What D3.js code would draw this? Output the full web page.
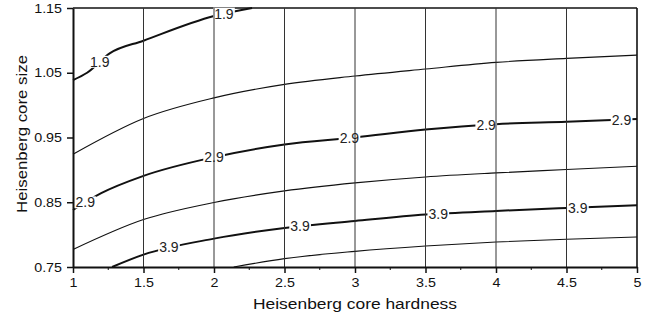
<!DOCTYPE html>
<html>
<head>
<meta charset="utf-8">
<script src="https://cdn.jsdelivr.net/npm/d3@7"></script>
<style>
  body { margin: 0; background: #fff; }
  svg { display: block; }
  text { font-family: "Liberation Sans", Arial, Helvetica, sans-serif; fill: #111; }
</style>
</head>
<body>
<svg id="chart" width="649" height="320"></svg>
<script>
// Axis ticks
const hardnessTicks = [1, 1.5, 2, 2.5, 3, 3.5, 4, 4.5, 5];
const hardnessMinorTicks = [1.25, 1.75, 2.25, 2.75, 3.25, 3.75, 4.25, 4.75];
const gridHardness = [1.5, 2, 2.5, 3, 3.5, 4, 4.5];
const sizeTicks = [0.75, 0.85, 0.95, 1.05, 1.15];

// Contour levels; the labelled ones are drawn heavier
const levels = [1.9, 2.4, 2.9, 3.4, 3.9, 4.4];
const labelledLevels = [1.9, 2.9, 3.9];

// Contour traces as [hardness, size] pairs
const contour19 = [[1, 1.0387], [1.1, 1.050], [1.26, 1.0799], [1.5, 1.0995], [2, 1.1376], [2.27, 1.15]];
const contour24 = [[1, 0.9242], [1.5, 0.9794], [2, 1.0112], [2.5, 1.032], [3, 1.0449], [3.5, 1.0557], [4, 1.066], [4.5, 1.0722], [5, 1.0773]];
const contour29 = [[1, 0.838], [1.2, 0.864], [1.5, 0.8907], [2, 0.9196], [2.5, 0.9392], [3, 0.950], [3.5, 0.9624], [4, 0.9706], [4.5, 0.9742], [5, 0.9784]];
const contour34 = [[1, 0.7769], [1.5, 0.8232], [2, 0.8496], [2.5, 0.8675], [3, 0.8799], [3.5, 0.8891], [4, 0.8953], [4.5, 0.9005], [5, 0.9057]];
const contour39 = [[1.277, 0.75], [1.5, 0.7691], [2, 0.7938], [2.5, 0.8103], [3, 0.8211], [3.5, 0.831], [4, 0.8366], [4.5, 0.8412], [5, 0.8454]];
const contour44 = [[2.14, 0.75], [2.5, 0.7629], [3, 0.7742], [3.5, 0.7824], [4, 0.7886], [4.5, 0.7928], [5, 0.7964]];

// Where the inline level labels sit (hardness values)
const labelAt19 = [1.19, 2.07];
const labelAt29 = [1.087, 2.0, 2.96, 3.93, 4.89];
const labelAt39 = [1.68, 2.61, 3.59, 4.58];

const contours = [contour19, contour24, contour29, contour34, contour39, contour44];
const labelPositions = { 1.9: labelAt19, 2.9: labelAt29, 3.9: labelAt39 };

const W = 649, H = 320;
const margin = { left: 73, right: 12, top: 8, bottom: 53 };
const x = d3.scaleLinear().domain([1, 5]).range([margin.left, W - margin.right]);
const y = d3.scaleLinear().domain([0.75, 1.15]).range([H - margin.bottom, margin.top]);

const svg = d3.select("#chart");
const x0 = x.range()[0], x1 = x.range()[1], y0 = y.range()[0], y1 = y.range()[1];

// top and right frame edges (thin)
const frame = svg.append("g").attr("stroke", "#111").attr("fill", "none");
frame.append("line").attr("x1", x0).attr("x2", x1).attr("y1", y1).attr("y2", y1).attr("stroke-width", 1.6);
frame.append("line").attr("x1", x1).attr("x2", x1).attr("y1", y1).attr("y2", y0).attr("stroke-width", 1.6);

// contour lines
const lineGen = d3.line().x(d => x(d[0])).y(d => y(d[1])).curve(d3.curveMonotoneX);
const pathNodes = {};
const contourG = svg.append("g").attr("fill", "none").attr("stroke", "#111");
levels.forEach((lv, i) => {
  const heavy = labelledLevels.includes(lv);
  const p = contourG.append("path")
    .attr("d", lineGen(contours[i]))
    .attr("stroke-width", heavy ? 2 : 1.1)
    .attr("stroke-linejoin", "round");
  pathNodes[lv] = p.node();
});

// find the pixel y of a contour path at a given hardness
function pathYAt(node, hv) {
  const px = x(hv);
  const L = node.getTotalLength();
  let lo = 0, hi = L;
  for (let k = 0; k < 40; k++) {
    const mid = (lo + hi) / 2;
    if (node.getPointAtLength(mid).x < px) lo = mid; else hi = mid;
  }
  return node.getPointAtLength((lo + hi) / 2).y;
}

// label text layer (created now, masks inserted beneath later)
const maskG = svg.append("g");
const gridG = svg.append("g");
const axisG = svg.append("g");
const labelG = svg.append("g");

labelledLevels.forEach(lv => {
  labelPositions[lv].forEach(hv => {
    const px = x(hv), py = pathYAt(pathNodes[lv], hv);
    const t = labelG.append("text")
      .attr("x", px).attr("y", py).attr("dy", "0.36em")
      .attr("text-anchor", "middle")
      .attr("font-size", 14)
      .style("fill", "#222")
      .text(d3.format(".1f")(lv));
    const bb = t.node().getBBox();
    maskG.append("rect")
      .attr("x", bb.x - 1).attr("y", bb.y + 2)
      .attr("width", bb.width + 2).attr("height", bb.height - 4)
      .attr("fill", "#fff");
  });
});

// vertical grid lines
gridG.selectAll("line").data(gridHardness).join("line")
  .attr("x1", d => x(d)).attr("x2", d => x(d))
  .attr("y1", y1).attr("y2", y0)
  .attr("stroke", "#333").attr("stroke-width", 1);

// bottom axis
const bottom = axisG.append("g").attr("transform", `translate(0,${y0})`)
  .call(d3.axisBottom(x).tickValues(hardnessTicks).tickSize(6).tickPadding(5)
    .tickFormat(d3.format("~g")).tickSizeOuter(0));
bottom.select(".domain").attr("stroke", "#111").attr("stroke-width", 2);
bottom.selectAll(".tick line").attr("stroke", "#111").attr("stroke-width", 1.5);
bottom.selectAll(".tick text")
  .attr("font-size", 13).attr("font-family", null).style("fill", "#111")
  .attr("transform", "scale(1.1,1)");

// minor ticks on the bottom axis
axisG.append("g").selectAll("line").data(hardnessMinorTicks).join("line")
  .attr("x1", d => x(d)).attr("x2", d => x(d))
  .attr("y1", y0).attr("y2", y0 + 3)
  .attr("stroke", "#111").attr("stroke-width", 1);

// left axis
const left = axisG.append("g").attr("transform", `translate(${x0},0)`)
  .call(d3.axisLeft(y).tickValues(sizeTicks).tickSize(6).tickPadding(4)
    .tickFormat(d3.format(".2f")).tickSizeOuter(0));
left.select(".domain").attr("stroke", "#111").attr("stroke-width", 2);
left.selectAll(".tick line").attr("stroke", "#111").attr("stroke-width", 1.5);
left.selectAll(".tick text")
  .attr("font-size", 13).attr("font-family", null).style("fill", "#111")
  .attr("transform", "scale(1.1,1)");

// axis titles
svg.append("text")
  .attr("x", (x0 + x1) / 2 - 102).attr("y", 309)
  .attr("font-size", 14)
  .attr("textLength", 204).attr("lengthAdjust", "spacingAndGlyphs")
  .text("Heisenberg core hardness");

svg.append("text")
  .attr("transform", "translate(27,213) rotate(-90)")
  .attr("font-size", 14)
  .attr("textLength", 158).attr("lengthAdjust", "spacingAndGlyphs")
  .text("Heisenberg core size");
</script>
</body>
</html>
